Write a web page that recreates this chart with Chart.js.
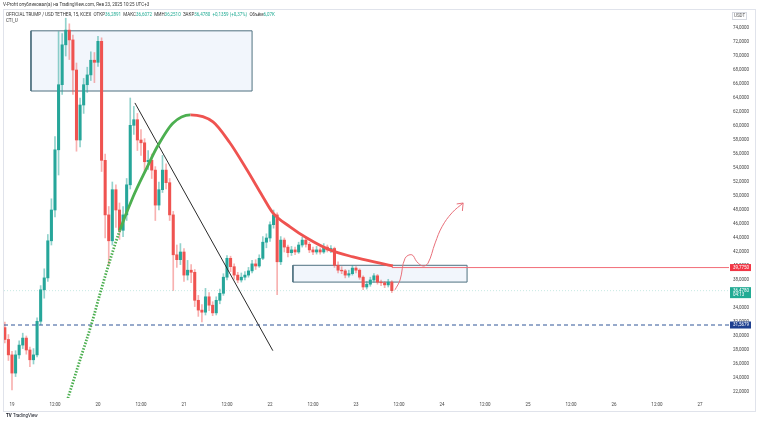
<!DOCTYPE html>
<html>
<head>
<meta charset="utf-8">
<script src="https://cdn.jsdelivr.net/npm/chart.js@4.4.1/dist/chart.umd.min.js"></script>
<style>
  html,body{margin:0;padding:0;background:#fff;}
  body{width:758px;height:422px;position:relative;overflow:hidden;font-family:Roboto,"Liberation Sans",sans-serif;}
  #c{position:absolute;left:0;top:0;}
  .t{position:absolute;white-space:nowrap;font-size:9px;transform:scale(0.5);transform-origin:left top;color:#333;}
  .v{color:#22ab94;}
  #frame{position:absolute;left:3px;top:9px;width:751px;height:401px;border:1px solid #e0e3eb;pointer-events:none;}
  #usdt{position:absolute;left:732px;top:12px;width:13px;height:6px;border:1px solid #d6d9e0;}
</style>
</head>
<body>
<div id="frame"></div>
<canvas id="c" width="758" height="422"></canvas>
<div class="t" style="left:3px;top:2px;">V-Profit опубликовал(а) на TradingView.com, Янв 23, 2025 10:25 UTC+3</div>
<div class="t" style="left:6px;top:12px;">OFFICIAL TRUMP / USD TETHER, 15, KCEX &nbsp;ОТКР<span class="v">36,2891</span> &nbsp;МАКС<span class="v">36,6072</span> &nbsp;МИН<span class="v">36,2510</span> &nbsp;ЗАКР<span class="v">36,4780</span> &nbsp;<span class="v">+0,1359 (+0,37%)</span> &nbsp;Объём<span class="v">6,07K</span></div>
<div class="t" style="left:6px;top:18px;">CTI_U</div>
<div id="usdt"></div>
<div class="t" style="left:734px;top:13px;color:#555;">USDT</div>
<div class="t" style="left:6px;top:413px;color:#131722;font-weight:bold;">TV <span style="font-weight:normal">TradingView</span></div>
<script>
// ---- data (hourly candles, hour 0 = Jan 19 00:00) ----
const hourStart = -2;
const opens  = [31.2,29.5,27.3,24.7,27.3,28.7,29.7,28.0,26.6,27.3,32.1,36.6,38.3,43.6,48.0,56.6,65.9,71.6,73.7,72.3,68.0,58.0,63.0,65.9,67.3,69.4,69.1,72.1,55.1,47.3,43.6,50.9,48.0,45.1,47.3,51.6,60.1,60.9,58.0,57.6,54.9,55.1,53.7,48.7,50.9,53.7,51.9,47.3,41.6,40.9,42.0,38.7,39.4,39.1,35.1,33.7,33.4,35.6,34.4,33.3,35.1,36.1,38.4,41.1,39.9,38.7,38.0,38.4,38.7,39.3,40.3,40.0,41.1,43.4,44.0,45.9,47.3,40.6,43.7,42.7,41.9,42.3,42.0,43.0,43.7,43.1,42.3,42.0,42.3,42.0,42.7,42.3,42.5,40.1,39.4,39.3,38.7,38.9,39.7,39.4,38.4,37.0,37.4,38.0,38.6,37.7,37.6,37.3,37.7];
const closes = [29.5,27.3,24.7,27.3,28.7,29.7,28.0,26.6,27.3,32.1,36.6,38.3,43.6,48.0,56.6,65.9,71.6,73.7,72.3,68.0,58.0,63.0,65.9,67.3,69.4,69.1,72.1,55.1,47.3,43.6,50.9,48.0,45.1,47.3,51.6,60.1,60.9,58.0,57.6,54.9,55.1,53.7,48.7,50.9,53.7,51.9,47.3,41.6,40.9,42.0,38.7,39.4,39.1,35.1,33.7,33.4,35.6,34.4,33.3,35.1,36.1,38.4,41.1,39.9,38.7,38.0,38.4,38.7,39.3,40.3,40.0,41.1,43.4,44.0,45.9,47.3,40.6,43.7,42.7,41.9,42.3,42.0,43.0,43.7,43.1,42.3,42.0,42.3,42.0,42.7,42.3,42.5,40.1,39.4,39.3,38.7,38.9,39.7,39.4,38.4,37.0,37.4,38.0,38.6,37.7,37.6,37.3,37.7,36.478];
const highs  = [32.0,30.2,27.8,27.9,29.3,30.4,30.0,28.4,28.2,32.6,37.2,39.6,44.5,49.6,58.5,73.5,73.2,75.4,74.6,73.0,69.0,64.0,66.8,68.4,70.6,70.5,72.8,72.6,56.0,48.5,52.0,51.6,49.0,48.5,52.5,64.0,62.8,61.8,59.5,58.2,56.5,56.0,54.2,52.0,55.8,54.6,52.5,47.8,43.0,43.2,42.5,40.8,40.2,39.5,35.8,34.5,36.8,36.2,34.9,35.6,36.7,38.9,41.5,41.4,40.3,39.1,39.0,39.2,39.8,40.8,40.9,41.6,44.2,44.6,46.3,48.0,47.6,44.2,44.0,43.0,42.8,42.7,43.4,44.1,44.0,43.4,42.7,42.8,42.6,43.2,43.0,42.9,42.7,40.6,39.9,39.5,39.4,40.1,39.9,39.6,38.6,37.8,38.4,38.9,38.8,38.0,37.8,38.1,37.9];
const lows   = [29.0,26.5,22.3,24.2,26.8,28.2,27.4,25.6,26.0,27.0,31.6,35.4,37.8,43.0,47.0,53.0,64.5,70.0,69.5,64.5,56.4,57.0,61.8,64.8,66.5,66.2,68.5,53.5,44.0,40.1,43.0,45.5,43.8,44.2,46.5,51.0,58.8,56.5,55.8,53.5,53.8,52.5,46.5,48.0,50.5,51.0,46.5,36.5,39.8,40.2,37.8,38.0,37.6,34.2,32.8,32.0,33.0,33.6,32.9,33.0,34.6,35.8,38.0,39.2,38.1,37.6,37.7,38.0,38.4,39.0,39.5,39.8,40.9,42.6,43.5,45.4,35.9,40.2,42.0,41.3,41.5,41.6,41.8,42.7,42.7,41.9,41.6,41.7,41.7,41.8,42.0,41.9,39.8,39.0,38.9,38.3,38.4,38.7,39.0,38.1,36.6,36.7,37.1,37.7,37.4,37.2,36.9,37.0,36.2];

// drawings (hour, price)
// arc: dotted green up to arcDottedEnd, solid green up to arcGreenEnd, red afterwards
const arcX = [15.6,19.0,22.3,24.6,27.4,30.1,33.8,37.7,40.5,44.9,49.8,56.1,60.8,65.6,70.0,72.8,77.6,82.3,88.7,95.2,102.7,106.3];
const arcY = [21.1,26.6,31.9,36.1,40.9,45.1,49.9,54.1,57.0,60.4,61.6,60.6,57.6,53.7,49.9,47.6,45.6,44.0,42.3,41.3,40.4,40.0];
const arcDottedEnd = 30.1, arcGreenEnd = 49.8;
const trendX = [34.3,72.8];
const trendY = [63.3,27.9];
const arrowX = [106.9,108.3,109.7,111.6,113.0,114.7,116.1,118.1,120.0,122.8,125.9];
const arrowY = [36.6,38.0,41.1,41.6,40.6,40.0,40.4,43.3,45.6,47.6,49.0];
const arrowHeadX = [124.1,125.9,125.7];
const arrowHeadY = [48.86,49.0,47.86];
const boxTopX = [5.3,67.0];  const boxTopY = [65.0,73.6];
const boxLowX = [78.4,127.0]; const boxLowY = [37.7,40.1];
const levelRed = 39.775, levelLast = 36.478, levelBlue = 31.5679;
const lastCountdown = "04:13";

// axis ticks
const xTickHours  = [0,12,24,36,48,60,72,84,96,108,120,132,144,156,168,180,192];
const xTickLabels = ["19","12:00","20","12:00","21","12:00","22","12:00","23","12:00","24","12:00","25","12:00","26","12:00","27"];
const yTickValues = [22,24,26,28,30,32,34,36,38,40,42,44,46,48,50,52,54,56,58,60,62,64,66,68,70,72,74];

const X_MIN = -2.23, X_MAX = 200.1, Y_MIN = 21.14, Y_MAX = 76.86;

// ---- build ----
const fmt = v => v.toFixed(4).replace('.', ',');
const pts = (xs, ys) => xs.map((x, i) => ({x, y: ys[i]}));
const hrs = closes.map((_, i) => hourStart + i);
const isUp = i => closes[i] >= opens[i];
const UP = '#26a69a', DOWN = '#ef5350';

const lineDs = (data, color, width, extra) => Object.assign({
  type: 'line', data, borderColor: color, borderWidth: width, pointRadius: 0,
  fill: false, tension: 0, order: 0
}, extra || {});

const boxOutline = (xs, ys) => [
  {x: xs[0], y: ys[0]}, {x: xs[1], y: ys[0]}, {x: xs[1], y: ys[1]}, {x: xs[0], y: ys[1]}, {x: xs[0], y: ys[0]}
];

const datasets = [
  lineDs(pts(arrowX, arrowY), '#e8707a', 1, {tension: 0.4}),
  lineDs(pts(arrowHeadX, arrowHeadY), '#e8707a', 1),
  lineDs(pts(arcX, arcY), '#ef5350', 2.8, {
    cubicInterpolationMode: 'monotone',
    segment: {
      borderColor: c => c.p1.parsed.x <= arcGreenEnd ? '#4caf50' : '#ef5350',
      borderDash: c => c.p1.parsed.x <= arcDottedEnd ? [1.5, 1.5] : []
    }
  }),
  lineDs(pts(trendX, trendY), '#2a2a2a', 1),
  lineDs(pts([X_MIN, X_MAX], [levelBlue, levelBlue]), '#2f5597', 1, {borderDash: [4, 3]}),
  lineDs(pts([hrs[hrs.length - 1], X_MAX], [levelRed, levelRed]), '#f26d78', 1),
  lineDs(pts([X_MIN, X_MAX], [levelLast, levelLast]), 'rgba(34,171,148,0.25)', 1, {borderDash: [1, 2], order: 4}),
  {
    type: 'bar', order: 5, grouped: false, barThickness: 2.4, borderWidth: 0, borderSkipped: false,
    data: hrs.map((h, i) => ({x: h, y: [opens[i], closes[i]]})),
    backgroundColor: hrs.map((_, i) => isUp(i) ? UP : DOWN)
  },
  {
    type: 'bar', order: 6, grouped: false, barThickness: 1, borderWidth: 0, borderSkipped: false,
    data: hrs.map((h, i) => ({x: h, y: [lows[i], highs[i]]})),
    backgroundColor: hrs.map((_, i) => isUp(i) ? 'rgba(38,166,154,0.5)' : 'rgba(239,83,80,0.45)')
  },
  lineDs(boxOutline(boxTopX, boxTopY), '#4f7180', 1, {order: 8}),
  lineDs(boxOutline(boxLowX, boxLowY), '#4f7180', 1, {order: 8}),
  lineDs(pts(boxTopX, [boxTopY[1], boxTopY[1]]), 'rgba(0,0,0,0)', 0, {order: 9, fill: {value: boxTopY[0]}, backgroundColor: 'rgba(230,237,250,0.5)'}),
  lineDs(pts(boxLowX, [boxLowY[1], boxLowY[1]]), 'rgba(0,0,0,0)', 0, {order: 9, fill: {value: boxLowY[0]}, backgroundColor: 'rgba(230,237,250,0.5)'})
];

const tags = [
  {v: levelRed, lines: [fmt(levelRed)], bg: '#f23645'},
  {v: levelLast, lines: [fmt(levelLast), lastCountdown], bg: '#22ab94'},
  {v: levelBlue, lines: [fmt(levelBlue)], bg: '#1e3f8f'}
];

const tagPlugin = {
  id: 'tags',
  afterDraw(chart) {
    const ctx = chart.ctx, y = chart.scales.y;
    ctx.save();
    ctx.font = '4.5px Roboto, "Liberation Sans", sans-serif';
    ctx.textBaseline = 'middle';
    ctx.textAlign = 'left';
    tags.forEach(t => {
      const py = y.getPixelForValue(t.v);
      const h = t.lines.length === 1 ? 7 : 11;
      const top = py - 3.5;
      ctx.fillStyle = t.bg;
      ctx.fillRect(730, top, 21, h);
      ctx.fillStyle = '#fff';
      t.lines.forEach((s, k) => ctx.fillText(s, 733, top + 3.5 + k * 4.5));
    });
    ctx.restore();
  }
};

Chart.defaults.font.family = 'Roboto, "Liberation Sans", sans-serif';

new Chart(document.getElementById('c'), {
  type: 'bar',
  data: {datasets},
  options: {
    responsive: false, animation: false, events: [],
    layout: {padding: {left: 4, top: 8, right: 0, bottom: 0}},
    plugins: {legend: {display: false}, tooltip: {enabled: false}, title: {display: false}},
    scales: {
      x: {
        type: 'linear', position: 'bottom', min: X_MIN, max: X_MAX, offset: false,
        grid: {display: false, drawTicks: false}, border: {display: false},
        afterBuildTicks: s => { s.ticks = xTickHours.map(v => ({value: v})); },
        afterFit: s => { s.height = 24; },
        ticks: {
          autoSkip: false, maxRotation: 0, padding: 4, color: '#444', font: {size: 4.5},
          callback: v => { const i = xTickHours.indexOf(v); return i >= 0 ? xTickLabels[i] : ''; }
        }
      },
      y: {
        type: 'linear', position: 'right', min: Y_MIN, max: Y_MAX,
        grid: {display: false, drawTicks: false}, border: {display: false},
        afterBuildTicks: s => { s.ticks = yTickValues.map(v => ({value: v})); },
        afterFit: s => { s.width = 29; },
        ticks: {padding: 4, color: '#444', font: {size: 4.5}, callback: v => fmt(v)}
      }
    }
  },
  plugins: [tagPlugin]
});
</script>
</body>
</html>
